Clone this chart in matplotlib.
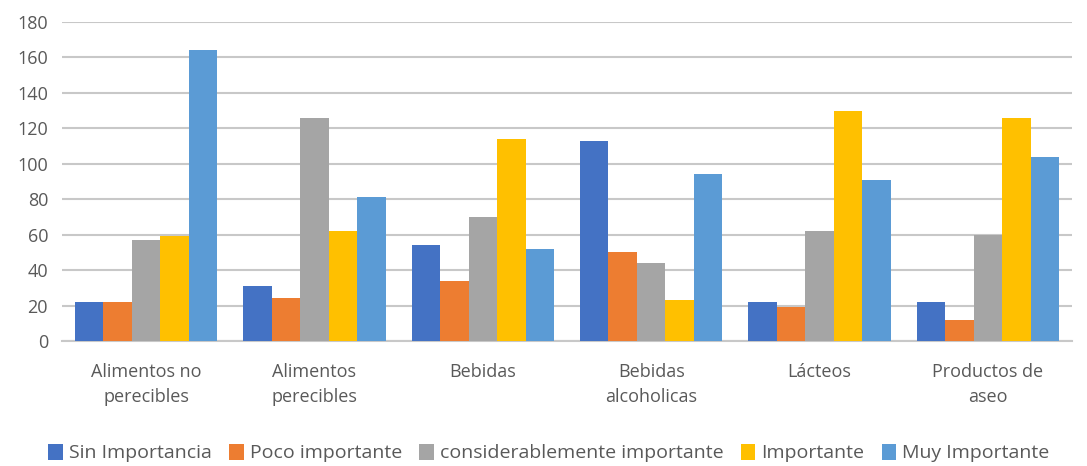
import numpy as np
import matplotlib.pyplot as plt

categories = ['Alimentos no\nperecibles', 'Alimentos\nperecibles', 'Bebidas',
              'Bebidas\nalcoholicas', 'Lácteos', 'Productos de\naseo']
series_names = ['Sin Importancia', 'Poco importante', 'considerablemente importante',
                'Importante', 'Muy Importante']
sin_importancia = [22, 31, 54, 113, 22, 22]
poco_importante = [22, 24, 34, 50, 19, 12]
considerablemente = [57, 126, 70, 44, 62, 60]
importante = [59, 62, 114, 23, 130, 126]
muy_importante = [164, 81, 52, 94, 91, 104]
colors = ['#4472C4', '#ED7D31', '#A5A5A5', '#FFC000', '#5B9BD5']

values = [sin_importancia, poco_importante, considerablemente, importante, muy_importante]

plt.rcParams['font.family'] = ['Open Sans', 'DejaVu Sans']
txt = '#595959'

fig = plt.figure(figsize=(10.87, 4.66), dpi=100)
ax = fig.add_axes([62 / 1087, 1 - 341 / 466, 1010 / 1087, 319 / 466])

x = np.arange(len(categories))
w = 0.845 / 5
for i, (name, vals) in enumerate(zip(series_names, values)):
    ax.bar(x + (i - 2) * w, vals, width=w, color=colors[i], label=name, zorder=3)

ax.set_xlim(-0.5, len(categories) - 0.5)
ax.set_ylim(0, 180)
ax.set_yticks(range(0, 181, 20))
ax.set_xticks(x)
ax.set_xticklabels(categories, fontsize=13, color=txt, linespacing=1.5)
ax.tick_params(axis='y', labelsize=13, colors=txt, length=0, pad=10)
ax.tick_params(axis='x', length=0, pad=16)
ax.grid(axis='y', color='#c8c8c8', linewidth=1.5, zorder=0)
for s in ['top', 'right', 'left']:
    ax.spines[s].set_visible(False)
ax.spines['bottom'].set_color('#c8c8c8')
ax.spines['bottom'].set_linewidth(1.5)

fig.legend(loc='lower center', bbox_to_anchor=(0.505, -0.03), ncol=5, frameon=False,
           fontsize=14, labelcolor=txt, handlelength=0.75, handleheight=0.9,
           handletextpad=0.3, columnspacing=0.9)

fig.savefig('out.png', dpi=100)
